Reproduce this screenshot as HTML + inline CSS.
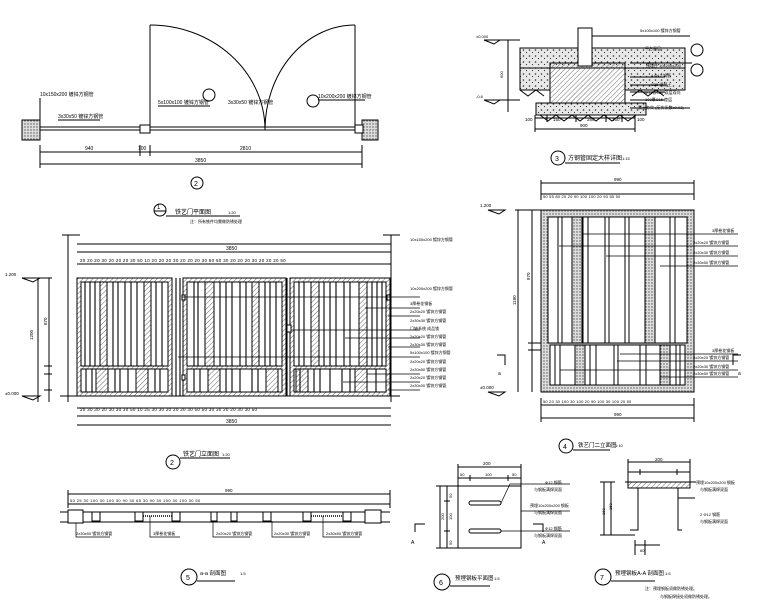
<!DOCTYPE html>
<html><head><meta charset="utf-8"><style>
html,body{margin:0;padding:0;background:#fff}
svg{display:block}
text{font-family:"Liberation Sans","Noto Sans CJK SC",sans-serif;fill:#000}
</style></head><body>
<svg width="760" height="606" viewBox="0 0 760 606" xmlns="http://www.w3.org/2000/svg" stroke="#000" fill="none" stroke-width="1">
<defs>
<pattern id="h" width="3.5" height="3.5" patternUnits="userSpaceOnUse" patternTransform="rotate(45)"><line x1="0" y1="0" x2="0" y2="3.5" stroke="#444" stroke-width="0.8"/></pattern>
<pattern id="d" width="3" height="3" patternUnits="userSpaceOnUse"><rect width="3" height="3" fill="#ddd" stroke="none"/><circle cx="1" cy="1" r="0.7" fill="#555" stroke="none"/></pattern>
<pattern id="c" width="6" height="6" patternUnits="userSpaceOnUse"><rect width="6" height="6" fill="#e8e8e8" stroke="none"/><circle cx="1.5" cy="2" r="0.8" fill="#333" stroke="none"/><circle cx="4.5" cy="4.5" r="0.6" fill="#333" stroke="none"/></pattern>
</defs>

<!-- 1 plan -->
<line x1="150" y1="25" x2="150" y2="130"/>
<path d="M150 25 A115 105 0 0 1 265 130"/>
<line x1="355" y1="25" x2="355" y2="130"/>
<path d="M355 25 A90 105 0 0 0 265 130"/>
<line x1="40" y1="130" x2="362" y2="130"/>
<line x1="40" y1="127" x2="362" y2="127"/>
<rect x="22" y="120" width="18" height="20" fill="url(#d)"/>
<rect x="362" y="120" width="16" height="20" fill="url(#d)"/>
<rect x="140" y="125" width="10" height="8" fill="#fff"/>
<rect x="355" y="125" width="8" height="8" fill="#fff"/>
<line x1="40" y1="152" x2="362" y2="152"/><line x1="40" y1="164" x2="362" y2="164"/>
<line x1="40" y1="145" x2="40" y2="168"/><line x1="140" y1="145" x2="140" y2="156"/><line x1="150" y1="145" x2="150" y2="156"/><line x1="362" y1="145" x2="362" y2="168"/>
<g stroke="none" font-size="5"><text x="85" y="150">940</text><text x="138" y="150">100</text><text x="240" y="150">2810</text><text x="195" y="162">3850</text>
<text x="40" y="96">10x150x200 镀锌方钢管</text><text x="58" y="118">3x30x50 镀锌方钢管</text><text x="158" y="104">5x100x100 镀锌方钢管</text><text x="228" y="104">3x30x50 镀锌方钢管</text><text x="318" y="98">10x200x200 镀锌方钢管</text></g>
<line x1="40" y1="98" x2="40" y2="122"/><line x1="58" y1="120" x2="100" y2="120"/><line x1="158" y1="106" x2="210" y2="106"/><line x1="318" y1="100" x2="365" y2="100"/>
<circle cx="209" cy="95" r="6"/><circle cx="313" cy="101" r="6"/>
<circle cx="197" cy="183" r="6"/><text x="194" y="186" font-size="7" stroke="none">2</text>
<circle cx="160" cy="210" r="6"/><text x="157" y="209" font-size="6" stroke="none">1</text>
<line x1="154" y1="211" x2="166" y2="211"/><line x1="166" y1="216" x2="240" y2="216"/>
<text x="175" y="214" font-size="6" stroke="none">铁艺门平面图</text><text x="228" y="214" font-size="4" stroke="none">1:20</text>
<text x="190" y="223" font-size="4" stroke="none">注：所有铁件均需做防锈处理</text>

<!-- 2 elevation -->
<line x1="68" y1="235" x2="68" y2="402"/><line x1="391" y1="235" x2="391" y2="402"/>
<line x1="62" y1="235" x2="80" y2="235"/><line x1="383" y1="235" x2="400" y2="235"/>
<line x1="77" y1="244" x2="391" y2="244"/><line x1="77" y1="252" x2="391" y2="252"/>
<line x1="77" y1="264" x2="391" y2="264"/>
<text x="226" y="250" font-size="5" stroke="none">3850</text>
<text x="80" y="262" font-size="4.5" stroke="none" letter-spacing="0.3">20 20 20 30 20 20 20 30 50 10 20 20 20 30 20 20 20 30 50 50 30 20 20 20 30 20 20 20 50</text>
<g>
<rect x="77" y="278" width="95" height="118" fill="url(#h)"/>
<rect x="81" y="282" width="87" height="84" fill="#fff"/>
<rect x="81" y="369" width="87" height="23" fill="#fff"/>
<rect x="183" y="278" width="103" height="118" fill="url(#h)"/>
<rect x="187" y="282" width="95" height="84" fill="#fff"/>
<rect x="187" y="369" width="95" height="23" fill="#fff"/>
<rect x="290" y="278" width="100" height="118" fill="url(#h)"/>
<rect x="294" y="282" width="92" height="84" fill="#fff"/>
<rect x="294" y="369" width="92" height="23" fill="#fff"/>
</g>
<g fill="url(#h)">
<rect x="100" y="282" width="7" height="84"/><rect x="144" y="282" width="7" height="84"/><rect x="205" y="282" width="9" height="84"/><rect x="252" y="282" width="7" height="84"/><rect x="311" y="282" width="8" height="84"/><rect x="359" y="282" width="8" height="84"/>
<rect x="96" y="369" width="12" height="23"/><rect x="136" y="369" width="12" height="23"/><rect x="208" y="369" width="12" height="23"/><rect x="266" y="369" width="12" height="23"/><rect x="296" y="369" width="12" height="23"/><rect x="355" y="369" width="12" height="23"/>
</g>
<g stroke-width="1.1">
<path d="M85 282V366M90 282V366M95 282V366M113 282V366M118 282V366M125 282V366M131 282V366M137 282V366M156 282V366M162 282V366"/>
<path d="M194 282V366M198 282V366M220 282V366M226 282V366M232 282V366M240 282V366M246 282V366M265 282V366M270 282V366M276 282V366"/>
<path d="M299 282V366M304 282V366M324 282V366M330 282V366M336 282V366M344 282V366M350 282V366M372 282V366M377 282V366M382 282V366"/>
<path d="M86 369V392M92 369V392M115 369V392M120 369V392M128 369V392M155 369V392M160 369V392M194 369V392M200 369V392M226 369V392M232 369V392M240 369V392M252 369V392M258 369V392M300 369V392M314 369V392M320 369V392M330 369V392M342 369V392M350 369V392M376 369V392"/>
<path d="M176 278V396M180 278V396M287 278V396"/>
</g>
<rect x="182" y="295" width="3" height="5" fill="#fff"/><rect x="182" y="375" width="3" height="5" fill="#fff"/><rect x="287" y="325" width="4" height="7" fill="#fff"/><rect x="387" y="295" width="3" height="5" fill="#fff"/>
<line x1="60" y1="396" x2="400" y2="396"/>
<g stroke-width="0.7"><path d="M182 297H420M365 308H420M388 316H420M291 330H420M345 338H420M388 347H420M178 357H420M367 374H420M343 382H420M388 390H420"/></g>
<g stroke="none" font-size="4"><text x="410" y="241">10x150x200 镀锌方钢管</text><text x="410" y="290">10x200x200 镀锌方钢管</text><text x="410" y="305">3厚卷花钢板</text><text x="410" y="313">2x20x20 镀锌方钢管</text><text x="410" y="322">2x30x30 镀锌方钢管</text><text x="410" y="330">门轴系统 成品锁</text><text x="410" y="338">2x20x20 镀锌方钢管</text><text x="410" y="346">2x30x30 镀锌方钢管</text><text x="410" y="354">5x100x100 镀锌方钢管</text><text x="410" y="363">2x20x20 镀锌方钢管</text><text x="410" y="371">2x30x50 镀锌方钢管</text><text x="410" y="379">2x20x20 镀锌方钢管</text><text x="410" y="387">2x30x30 镀锌方钢管</text></g>
<line x1="38" y1="278" x2="38" y2="402"/><line x1="49" y1="278" x2="49" y2="402"/><path d="M35 278H52M44 366H52M44 374H52M44 390H52"/>
<g stroke="none" font-size="4.5"><text x="5" y="276">1.200</text><text x="5" y="395">±0.000</text><text x="33" y="340" transform="rotate(-90 33 340)">1200</text><text x="47" y="325" transform="rotate(-90 47 325)">870</text></g>
<path d="M22 278H40L33 282Z M22 396H40L33 400Z"/>
<line x1="77" y1="408" x2="391" y2="408"/><line x1="77" y1="416" x2="391" y2="416"/><line x1="77" y1="425" x2="391" y2="425"/>
<text x="80" y="411" font-size="4.5" stroke="none" letter-spacing="0.3">20 30 30 20 30 30 30 50 10 25 30 30 20 20 30 30 50 50 30 30 20 20 30 30 50</text>
<text x="226" y="423" font-size="5" stroke="none">3850</text>
<circle cx="173" cy="462" r="7"/><text x="170" y="465" font-size="7" stroke="none">2</text>
<line x1="180" y1="458" x2="230" y2="458"/><text x="183" y="456" font-size="6" stroke="none">铁艺门立面图</text><text x="222" y="456" font-size="4" stroke="none">1:20</text>

<!-- 3 section -->
<line x1="580" y1="28" x2="580" y2="48"/><line x1="590" y1="28" x2="590" y2="48"/>
<rect x="520" y="48" width="165" height="20" fill="url(#c)"/>
<rect x="520" y="68" width="30" height="22" fill="url(#c)"/><rect x="625" y="68" width="60" height="22" fill="url(#c)"/>
<rect x="550" y="63" width="75" height="40" fill="url(#h)"/>
<rect x="578" y="28" width="14" height="38" fill="#fff"/>
<rect x="536" y="103" width="110" height="12" fill="url(#c)"/>
<path d="M520 90L528 96L536 90L544 96M632 96L640 90L648 96L656 90L664 96M540 115L548 121L556 115L564 121L572 115L580 121L588 115L596 121L604 115L612 121L620 115L628 121L636 115"/>
<line x1="508" y1="40" x2="508" y2="112"/><line x1="498" y1="40" x2="520" y2="40"/><line x1="498" y1="100" x2="520" y2="100"/>
<path d="M484 40H500L494 44Z M484 100H500L494 104Z"/>
<g stroke="none" font-size="4"><text x="476" y="38">±0.000</text><text x="476" y="98">-0.6</text><text x="503" y="78" transform="rotate(-90 503 78)">600</text>
<text x="640" y="32">5x100x100 镀锌方钢管</text><text x="645" y="50">平台面层</text><text x="646" y="67">预埋件 10x200x200</text><text x="651" y="77">4 Φ12 钢筋</text><text x="651" y="86">C25 混凝土</text><text x="645" y="94">Φ12@150 双层双向</text><text x="645" y="101">100厚C15 垫层</text><text x="638" y="109">素土夯实 (压实系数≥0.93)</text></g>
<circle cx="697" cy="50" r="6"/><circle cx="697" cy="70" r="6"/>
<path d="M592 36H690M630 63H692M630 77H665M630 85H665M630 92H665M630 100H665M630 108H690"/>
<line x1="535" y1="118" x2="635" y2="118"/><line x1="535" y1="129" x2="635" y2="129"/>
<path d="M535 115V132M547 115V122M576 115V122M606 115V122M622 115V122M635 115V132"/>
<g stroke="none" font-size="4.5"><text x="525" y="121">100</text><text x="553" y="121">150</text><text x="587" y="121">280</text><text x="612" y="121">150</text><text x="637" y="121">100</text><text x="580" y="127">900</text></g>
<circle cx="558" cy="158" r="7"/><text x="555" y="161" font-size="7" stroke="none">3</text>
<line x1="565" y1="163" x2="620" y2="163"/><text x="568" y="160" font-size="6" stroke="none">方钢管固定大样详图</text><text x="622" y="160" font-size="4" stroke="none">1:15</text>

<!-- 4 elevation -->
<line x1="541" y1="183" x2="694" y2="183"/><line x1="541" y1="194" x2="694" y2="194"/><line x1="541" y1="180" x2="541" y2="200"/><line x1="694" y1="180" x2="694" y2="200"/>
<text x="614" y="181" font-size="4.5" stroke="none">990</text>
<text x="543" y="198" font-size="4" stroke="none" letter-spacing="0.2">50 55 80 20 20 90 100 100 20 90 55 50</text>
<rect x="541" y="210" width="153" height="182" fill="url(#d)"/>
<rect x="548" y="217" width="139" height="126" fill="#fff"/>
<rect x="550" y="345" width="135" height="40" fill="#fff"/>
<g fill="url(#d)"><rect x="572" y="217" width="10" height="126"/><rect x="645" y="217" width="10" height="126"/><rect x="575" y="345" width="10" height="40"/><rect x="660" y="345" width="10" height="40"/></g>
<path d="M558 217V343M562 217V343M583 217V343M588 217V343M605 217V343M609 217V343M625 217V343M629 217V343M670 217V343M675 217V343"/>
<path d="M555 345V385M560 345V385M590 345V385M596 345V385M614 345V385M618 345V385M640 345V385M646 345V385M676 345V385M680 345V385"/>
<line x1="549" y1="343" x2="686" y2="343"/>
<g stroke-width="0.7"><path d="M583 234H738M559 246H738M606 256H738M660 266H738M620 354H738M617 361H738M560 370H738M660 377H738"/></g>
<g stroke="none" font-size="4"><text x="712" y="232">3厚卷花钢板</text><text x="693" y="244">2x20x20 镀锌方钢管</text><text x="693" y="254">2x20x30 镀锌方钢管</text><text x="693" y="264">2x30x50 镀锌方钢管</text><text x="712" y="352">3厚卷花钢板</text><text x="693" y="359">2x20x20 镀锌方钢管</text><text x="693" y="368">2x20x30 镀锌方钢管</text><text x="693" y="375">2x30x50 镀锌方钢管</text></g>
<line x1="518" y1="210" x2="518" y2="392"/><line x1="532" y1="210" x2="532" y2="392"/><path d="M515 210H541M528 343H541M528 350H541"/>
<path d="M488 210H505L499 214Z M488 392H505L499 396Z"/>
<g stroke="none" font-size="4.5"><text x="480" y="207">1.200</text><text x="480" y="389">±0.000</text><text x="516" y="305" transform="rotate(-90 516 305)">1180</text><text x="530" y="280" transform="rotate(-90 530 280)">870</text></g>
<path d="M497 355H505V365M741 355H733V365"/><text x="498" y="375" font-size="5" stroke="none">a</text><text x="738" y="375" font-size="5" stroke="none">a</text>
<line x1="541" y1="405" x2="694" y2="405"/><line x1="541" y1="418" x2="694" y2="418"/><line x1="541" y1="398" x2="541" y2="422"/><line x1="694" y1="398" x2="694" y2="422"/>
<text x="543" y="403" font-size="4" stroke="none" letter-spacing="0.2">50 20 30 100 30 100 20 90 100 30 100 20 50</text>
<text x="614" y="416" font-size="4.5" stroke="none">990</text>
<circle cx="566" cy="446" r="7"/><text x="563" y="449" font-size="7" stroke="none">4</text>
<line x1="573" y1="450" x2="610" y2="450"/><text x="578" y="447" font-size="5.5" stroke="none">铁艺门二立面图</text><text x="615" y="447" font-size="4" stroke="none">1:10</text>

<!-- 5 -->
<line x1="68" y1="494" x2="390" y2="494"/><line x1="68" y1="504" x2="390" y2="504"/><line x1="68" y1="490" x2="68" y2="508"/><line x1="390" y1="490" x2="390" y2="508"/>
<text x="225" y="492" font-size="4.5" stroke="none">990</text>
<text x="70" y="502" font-size="4" stroke="none" letter-spacing="0.4">50 25 30 100 30 100 30 90 30 65 30 90 30 100 30 100 30 50</text>
<line x1="60" y1="512" x2="390" y2="512"/><line x1="60" y1="522" x2="390" y2="522"/>
<g fill="#fff"><rect x="68" y="510" width="15" height="13"/><rect x="92" y="512" width="8" height="9"/><rect x="135" y="512" width="8" height="9"/><rect x="172" y="512" width="8" height="9"/><rect x="211" y="512" width="6" height="9"/><rect x="231" y="512" width="6" height="9"/><rect x="263" y="512" width="8" height="9"/><rect x="303" y="512" width="8" height="9"/><rect x="343" y="512" width="8" height="9"/><rect x="365" y="510" width="16" height="13"/></g>
<path d="M143 516H172M311 516H343" stroke-dasharray="1 1" stroke-width="1.5"/>
<g stroke-width="0.7"><path d="M76 523V537H110M150 516V537H180M213 521V537H250M272 521V537H305M323 516V537H360"/></g>
<g stroke="none" font-size="4"><text x="76" y="535">2x30x50 镀锌方钢管</text><text x="153" y="535">3厚卷花钢板</text><text x="216" y="535">2x20x20 镀锌方钢管</text><text x="274" y="535">2x20x30 镀锌方钢管</text><text x="326" y="535">2x30x50 镀锌方钢管</text></g>
<circle cx="189" cy="577" r="8"/><text x="186" y="580" font-size="7" stroke="none">5</text>
<line x1="197" y1="581" x2="235" y2="581"/><text x="200" y="575" font-size="5.5" stroke="none">a-a 剖面图</text><text x="240" y="575" font-size="4" stroke="none">1:5</text>

<!-- 6 -->
<line x1="458" y1="467" x2="521" y2="467"/><line x1="458" y1="478" x2="521" y2="478"/><path d="M458 464V486M521 464V486M470 475V481M508 475V481"/>
<text x="483" y="465" font-size="4.5" stroke="none">200</text><g stroke="none" font-size="4"><text x="460" y="476">50</text><text x="485" y="476">100</text><text x="512" y="476">50</text></g>
<rect x="458" y="486" width="63" height="62"/>
<rect x="469" y="501" width="32" height="4" rx="2"/><rect x="469" y="529" width="32" height="4" rx="2"/>
<path d="M436 486H458M436 548H458M440 486V548M447 486V548M444 501H450M444 531H450"/>
<g stroke="none" font-size="4"><text x="444" y="520" transform="rotate(-90 444 520)">200</text><text x="452" y="498" transform="rotate(-90 452 498)">50</text><text x="452" y="520" transform="rotate(-90 452 520)">100</text><text x="452" y="545" transform="rotate(-90 452 545)">50</text></g>
<path d="M425 524H415V532M533 524H543V532"/><text x="411" y="544" font-size="5" stroke="none">A</text><text x="542" y="544" font-size="5" stroke="none">A</text>
<g stroke-width="0.7"><path d="M501 503L510 484H570M521 511H570M501 531H570"/></g>
<g stroke="none" font-size="4"><text x="545" y="484">Φ12 钢筋</text><text x="534" y="491">与钢板满焊双面</text><text x="530" y="507">预埋10x200x200 钢板</text><text x="534" y="514">与钢板满焊双面</text><text x="545" y="530">Φ12 钢筋</text><text x="534" y="537">与钢板满焊双面</text></g>
<circle cx="442" cy="582" r="8"/><text x="439" y="585" font-size="7" stroke="none">6</text>
<line x1="450" y1="586" x2="490" y2="586"/><text x="455" y="580" font-size="5.5" stroke="none">预埋钢板平面图</text><text x="494" y="580" font-size="4" stroke="none">1:5</text>

<!-- 7 -->
<line x1="628" y1="462" x2="690" y2="462"/><line x1="628" y1="472" x2="690" y2="472"/><path d="M628 459V482M690 459V482M640 469V475M677 469V475"/>
<text x="655" y="461" font-size="4.5" stroke="none">200</text>
<rect x="628" y="482" width="62" height="6" fill="url(#h)"/>
<path d="M625 482H628M690 482H696M638 488V498M678 488V498M678 498H695M638 498V530H630M678 498V530H682"/>
<path d="M604 482V535M611 482V535M600 482H615M600 535H635M635 540V555M645 540V555M635 545H660"/>
<g stroke="none" font-size="4"><text x="605" y="515" transform="rotate(-90 605 515)">160</text><text x="612" y="510" transform="rotate(-90 612 510)">150</text><text x="640" y="552">80</text>
<text x="696" y="484">预埋10x200x200 钢板</text><text x="700" y="491">与钢板满焊双面</text><text x="700" y="516">2 Φ12 钢筋</text><text x="700" y="523">与钢板满焊双面</text>
<text x="645" y="590">注：预埋钢板须做防锈处理。</text><text x="660" y="598">与钢板焊接处须做防锈处理。</text></g>
<circle cx="603" cy="577" r="8"/><text x="600" y="580" font-size="7" stroke="none">7</text>
<line x1="611" y1="581" x2="655" y2="581"/><text x="615" y="575" font-size="5.5" stroke="none">预埋钢板A-A 剖面图</text><text x="665" y="575" font-size="4" stroke="none">1:5</text>
</svg>
</body></html>
